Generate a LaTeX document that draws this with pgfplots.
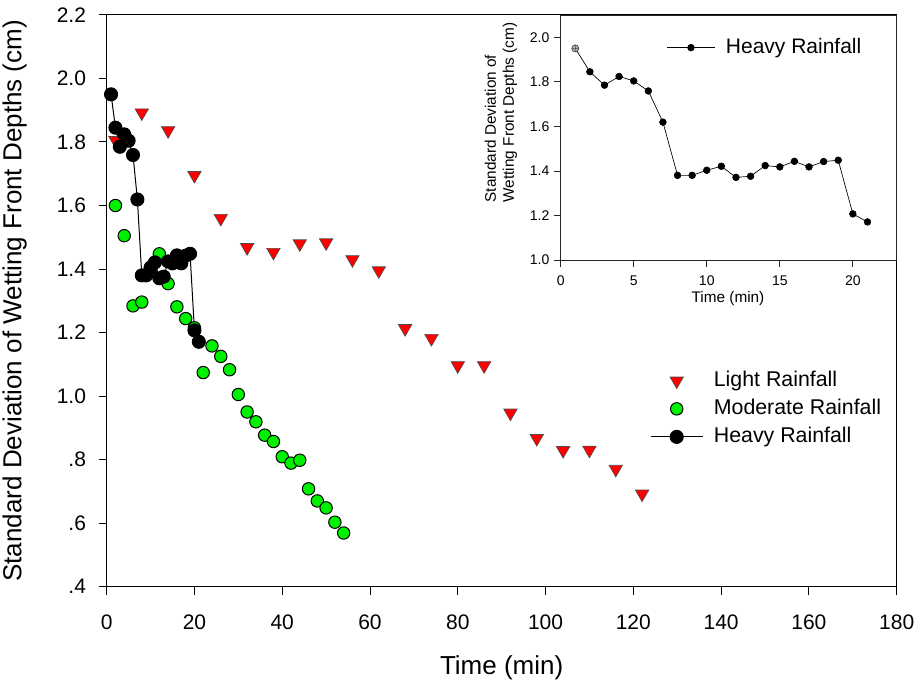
\documentclass[border=0pt]{standalone}
\usepackage{fontspec}
\setmainfont{Liberation Sans}
\usepackage{pgfplots}
\pgfplotsset{compat=1.18}
\usetikzlibrary{plotmarks}
\definecolor{lightred}{RGB}{255,0,0}
\definecolor{modgreen}{RGB}{0,240,0}
\begin{document}
\begin{tikzpicture}
\useasboundingbox (-80pt,-72.2pt) rectangle (608.5pt,440pt);
\begin{axis}[
  at={(0pt,0pt)}, anchor=south west,
  scale only axis, width=592.5pt, height=428.8pt,
  xmin=0, xmax=180, ymin=0.4, ymax=2.2,
  xtick={0,20,...,180},
  ytick={0.4,0.6,0.8,1.0,1.2,1.4,1.6,1.8,2.0,2.2},
  yticklabels={.4,.6,.8,1.0,1.2,1.4,1.6,1.8,2.0,2.2},
  tick align=outside, tick pos=left, major tick length=6pt,
  axis line style={line width=0.75pt},
  every tick/.style={black, line width=0.75pt},
  /pgf/number format/assume math mode=true,
  tick label style={font=\fontsize{15.75}{18}\selectfont},
  xticklabel style={yshift=-11.5pt},
  yticklabel style={xshift=-6pt},
  xlabel={Time (min)},
  ylabel={Standard Deviation of Wetting Front Depths (cm)},
  label style={font=\fontsize{19.5}{23}\selectfont},
  xlabel style={at={(axis description cs:0.5,-0.1417)}, anchor=center},
  ylabel style={at={(axis description cs:-0.1165,0.5)}, anchor=center},
  clip=false,
  legend style={draw=none, fill=none, at={(0.6877,0.3785)}, anchor=north west,
    inner sep=0pt, row sep=5.5pt, column sep=8pt, cells={anchor=west},
    nodes={inner sep=0pt, text height=12pt, text depth=3.5pt},
    font=\fontsize{16}{19}\selectfont},
  legend image code/.code={\draw[mark repeat=2,mark phase=2,#1] plot coordinates {(0pt,0pt) (19.5pt,0pt) (39pt,0pt)};},
]
\addplot[only marks, mark=triangle*, mark size=5.8pt,
  mark options={rotate=180, fill=lightred, draw=black!70, line width=0.5pt}]
  coordinates {
  (2,1.805) (8,1.892) (14,1.836) (20,1.695) (26,1.56) (32,1.468) (38,1.453)
  (44,1.48) (50,1.483) (56,1.43) (62,1.395) (68,1.213) (74,1.182) (80,1.096)
  (86,1.096) (92,0.947) (98,0.867) (104,0.829) (110,0.830) (116,0.770) (122,0.692)
  };
\addlegendentry{Light Rainfall}
\addplot[only marks, mark=*, mark size=4.65pt,
  mark options={fill=modgreen, draw=black, line width=0.75pt}]
  coordinates {
  (2,1.60) (4,1.505) (6,1.284) (8,1.296) (10,1.406) (12,1.448) (14,1.354)
  (16,1.281) (18,1.244) (20,1.215) (22,1.074) (24,1.158) (26,1.125) (28,1.083)
  (30,1.005) (32,0.950) (34,0.919) (36,0.877) (38,0.857) (40,0.809) (42,0.789)
  (44,0.798) (46,0.708) (48,0.670) (50,0.648) (52,0.603) (54,0.569)
  };
\addlegendentry{Moderate Rainfall}
\addplot[black, line width=0.75pt, mark=*, mark size=4.9pt,
  mark options={fill=black, draw=black}]
  coordinates {
  (1,1.950) (2,1.845) (3,1.785) (4,1.824) (5,1.804) (6,1.759) (7,1.619)
  (8,1.380) (9,1.380) (10,1.403) (11,1.421) (12,1.371) (13,1.376) (14,1.424)
  (15,1.418) (16,1.443) (17,1.418) (18,1.442) (19,1.448) (20,1.207) (21,1.171)
  };
\addlegendentry{Heavy Rainfall}
\end{axis}
\begin{axis}[
  at={(340.5pt,245pt)}, anchor=south west,
  scale only axis, width=252pt, height=183.75pt,
  xmin=0, xmax=23, ymin=1.0, ymax=2.1,
  xtick={0,5,10,15,20},
  ytick={1.0,1.2,1.4,1.6,1.8,2.0},
  yticklabel style={/pgf/number format/.cd, fixed, fixed zerofill, precision=1},
  xticklabel style={yshift=-3.5pt},
  tick align=outside, tick pos=left, major tick length=5pt,
  axis line style={line width=0.6pt, black!85},
  every tick/.style={black!85, line width=0.6pt},
  axis background/.style={fill=white},
  /pgf/number format/assume math mode=true,
  tick label style={font=\fontsize{10.5}{12}\selectfont},
  xlabel={Time (min)},
  ylabel={Standard Deviation of\\Wetting Front Depths (cm)},
  label style={font=\fontsize{11.5}{13.5}\selectfont},
  xlabel style={at={(axis description cs:0.498,-0.158)}, anchor=center},
  ylabel style={at={(axis description cs:-0.178,0.602)}, anchor=center, align=left},
  legend style={draw=none, fill=none, at={(0.3155,0.91)}, anchor=north west,
    inner sep=0pt, column sep=8.25pt, cells={anchor=west},
    nodes={inner sep=0pt, text height=12pt, text depth=3.5pt},
    font=\fontsize{15.75}{19}\selectfont},
  legend image code/.code={\draw[mark repeat=2,mark phase=2,#1] plot coordinates {(0pt,0pt) (17.75pt,0pt) (35.5pt,0pt)};},
]
\addplot[black, line width=0.5pt, mark=*, mark size=2.5pt,
  mark options={fill=black, draw=black}]
  coordinates {
  (1,1.950) (2,1.845) (3,1.785) (4,1.824) (5,1.804) (6,1.759) (7,1.619)
  (8,1.380) (9,1.380) (10,1.403) (11,1.421) (12,1.371) (13,1.376) (14,1.424)
  (15,1.418) (16,1.443) (17,1.418) (18,1.442) (19,1.448) (20,1.207) (21,1.171)
  };
\addlegendentry{Heavy Rainfall}
\addplot[forget plot, only marks, mark=oplus*, mark size=2.6pt,
  mark options={fill=black!30, draw=black!70, line width=0.4pt}]
  coordinates {(1,1.950)};
\end{axis}
\end{tikzpicture}
\end{document}
